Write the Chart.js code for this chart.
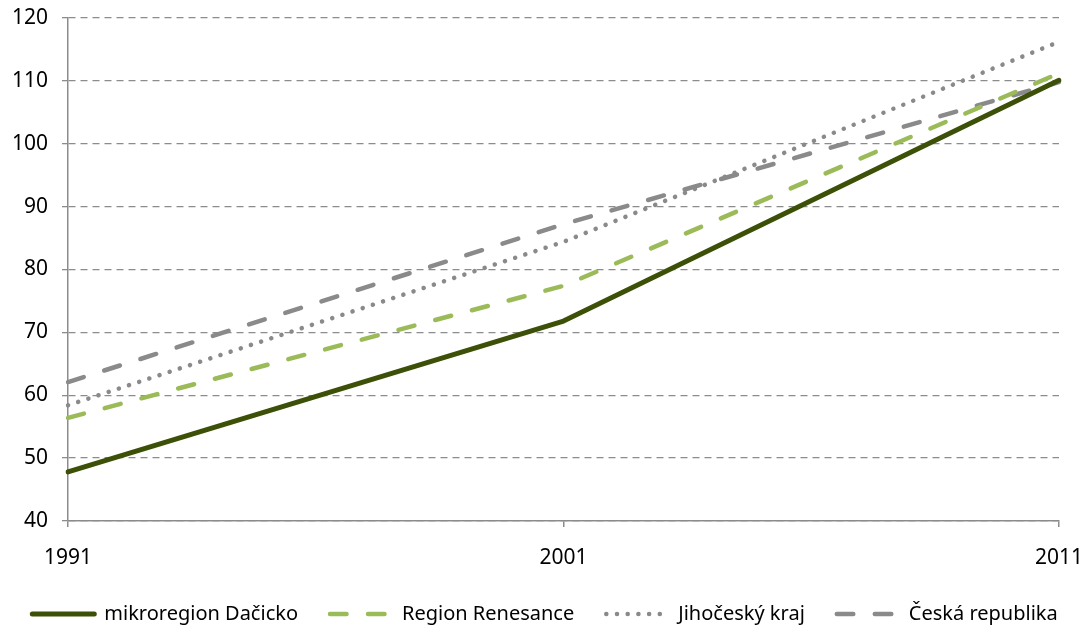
<!DOCTYPE html>
<html>
<head>
<meta charset="utf-8">
<script src="https://cdn.jsdelivr.net/npm/chart.js@4/dist/chart.umd.min.js"></script>
<style>
  html, body { margin: 0; padding: 0; background: #ffffff; }
  #wrap { width: 1090px; height: 631px; }
</style>
</head>
<body>
<div id="wrap"><canvas id="chartVyvoj"></canvas></div>
<script>
// Years on the category axis
const years = ['1991', '2001', '2011'];

// Index values
const dacicko = [47.8, 71.8, 110.1];
const renesance = [56.4, 77.4, 111.2];
const jihocesky = [58.4, 84.4, 116.2];
const ceskaRep = [62.1, 87.2, 109.8];

const yMin = 40;
const yMax = 120;
const yStep = 10;

const gridGrey = '#8c8c8c';
const lineGrey = '#8a8a8a';

Chart.defaults.font.family = '"Noto Sans", "DejaVu Sans", sans-serif';
Chart.defaults.color = '#000000';

// legend samples drawn as the dataset's own line (dash, width, cap)
function lineLegendLabels(chart) {
  return chart.data.datasets.map((ds, i) => ({
    text: ds.label,
    fillStyle: ds.borderColor,
    strokeStyle: ds.borderColor,
    lineWidth: ds.borderWidth,
    lineDash: ds.borderDash || [],
    lineCap: ds.borderCapStyle || 'butt',
    pointStyle: 'line',
    fontColor: '#000000',
    hidden: false,
    datasetIndex: i
  }));
}

const ctx = document.getElementById('chartVyvoj');

new Chart(ctx, {
  type: 'line',
  data: {
    labels: years,
    datasets: [
      {
        label: 'mikroregion Dačicko',
        data: dacicko,
        borderColor: '#3d5008',
        backgroundColor: '#3d5008',
        borderWidth: 5,
        borderCapStyle: 'round',
        borderJoinStyle: 'round'
      },
      {
        label: 'Region Renesance',
        data: renesance,
        borderColor: '#9bbb59',
        backgroundColor: '#9bbb59',
        borderWidth: 4.5,
        borderDash: [16.5, 21.5],
        borderCapStyle: 'round'
      },
      {
        label: 'Jihočeský kraj',
        data: jihocesky,
        borderColor: lineGrey,
        backgroundColor: lineGrey,
        borderWidth: 4.5,
        borderDash: [0.1, 10.6],
        borderCapStyle: 'round'
      },
      {
        label: 'Česká republika',
        data: ceskaRep,
        borderColor: lineGrey,
        backgroundColor: lineGrey,
        borderWidth: 4.5,
        borderDash: [16.5, 21.5],
        borderCapStyle: 'round'
      }
    ]
  },
  options: {
    responsive: true,
    maintainAspectRatio: false,
    animation: false,
    layout: {
      padding: { top: 0, right: 0, left: 0, bottom: -3 }
    },
    elements: {
      point: { radius: 0, hoverRadius: 0 },
      line: { tension: 0 }
    },
    plugins: {
      tooltip: { enabled: false },
      legend: {
        position: 'bottom',
        labels: {
          usePointStyle: true,
          pointStyleWidth: 62,
          boxHeight: 20,
          padding: 32,
          font: { size: 20 },
          color: '#000000',
          generateLabels: lineLegendLabels
        }
      }
    },
    scales: {
      x: {
        offset: false,
        // keep the plot right edge and bottom where the reference has them
        afterFit: scale => {
          scale.paddingRight = 31;
          scale.height = 51;
        },
        grid: {
          drawOnChartArea: false,
          drawTicks: true,
          tickLength: 6,
          color: gridGrey,
          lineWidth: 1.5
        },
        border: { display: true, color: gridGrey, width: 1.5 },
        ticks: {
          maxRotation: 0,
          autoSkip: false,
          padding: 18,
          font: { size: 21 }
        }
      },
      y: {
        min: yMin,
        max: yMax,
        afterFit: scale => {
          scale.width = 68;
          scale.paddingTop = 18;
        },
        grid: {
          color: gridGrey,
          lineWidth: 1.3,
          tickLength: 6,
          tickBorderDash: [],
          drawTicks: true
        },
        border: { display: true, color: gridGrey, width: 1.5, dash: [7, 5] },
        ticks: {
          stepSize: yStep,
          padding: 14,
          font: { size: 21 }
        }
      }
    }
  }
});
</script>
</body>
</html>
